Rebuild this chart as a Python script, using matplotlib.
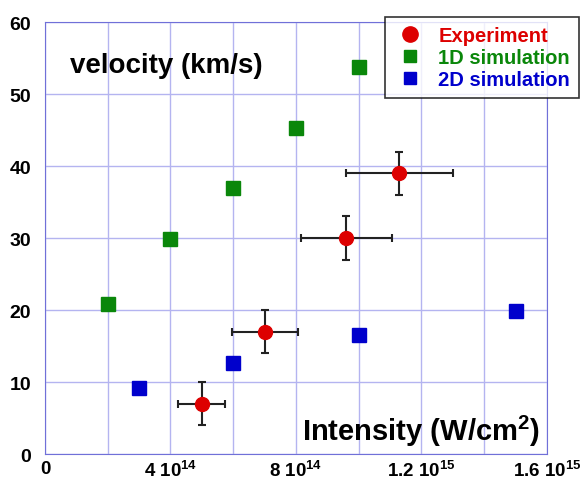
import numpy as np
import matplotlib
matplotlib.use('Agg')
from matplotlib import pyplot as plt
from matplotlib.lines import Line2D

plt.rcParams['font.family'] = 'Liberation Sans'
plt.rcParams['font.weight'] = 'bold'
plt.rcParams['mathtext.fontset'] = 'custom'
plt.rcParams['mathtext.rm'] = 'Liberation Sans:bold'
plt.rcParams['mathtext.bf'] = 'Liberation Sans:bold'
plt.rcParams['mathtext.default'] = 'bf'

# experiment (intensity W/cm2, velocity km/s)
exp_I = [5.0e14, 7.0e14, 9.6e14, 11.3e14]
exp_v = [7, 17, 30, 39]
exp_Ierr = [0.75e14, 1.05e14, 1.45e14, 1.7e14]
exp_verr = [3, 3, 3, 3]

sim1d_I = [2e14, 4e14, 6e14, 8e14, 10e14]
sim1d_v = [20.9, 29.8, 36.9, 45.3, 53.8]

sim2d_I = [3e14, 6e14, 10e14, 15e14]
sim2d_v = [9.2, 12.7, 16.5, 19.8]

xticks = [0, 4e14, 8e14, 12e14, 16e14]
xticklabels = ['0', r'4 10$^{14}$', r'8 10$^{14}$', r'1.2 10$^{15}$', r'1.6 10$^{15}$']

red = '#dd0000'
green = '#0a870a'
blue = '#0000cc'
gridc = '#b4b4f0'
axc = '#7070d8'

fig = plt.figure(figsize=(5.85, 4.81), dpi=100)
ax = fig.add_axes([0.0769, 0.054, 0.858, 0.898])

ax.plot(sim1d_I, sim1d_v, 's', color=green, ms=10, zorder=3)
ax.plot(sim2d_I, sim2d_v, 's', color=blue, ms=10, zorder=3)
ax.errorbar(exp_I, exp_v, xerr=exp_Ierr, yerr=exp_verr, fmt='o', color=red,
            ms=10, ecolor='#222222', elinewidth=1.5, capsize=3, capthick=1.5, zorder=4)

ax.set_xlim(0, 1.6e15)
ax.set_ylim(0, 60)
ax.set_xticks(xticks)
ax.set_xticklabels(xticklabels)
ax.set_xticks(np.arange(0, 1.61e15, 2e14), minor=True)
ax.set_yticks(np.arange(0, 61, 10))
ax.grid(True, which='both', color=gridc, lw=1)
ax.set_axisbelow(True)
for s in ax.spines.values():
    s.set_color(axc)
ax.tick_params(axis='both', which='both', length=0, labelsize=14, colors='black')
ax.tick_params(axis='x', pad=4, labelsize=13.5)
ax.tick_params(axis='y', pad=10)

ax.text(0.05, 0.9, 'velocity (km/s)', transform=ax.transAxes, fontsize=20,
        fontweight='bold', va='center', ha='left')
ax.text(0.987, 0.055, r'Intensity (W/cm$^{2}$)', transform=ax.transAxes, fontsize=21,
        fontweight='bold', va='center', ha='right')

handles = [Line2D([], [], ls='', marker='o', color=red, ms=11),
           Line2D([], [], ls='', marker='s', color=green, ms=9),
           Line2D([], [], ls='', marker='s', color=blue, ms=9)]
labels = ['Experiment', '1D simulation', '2D simulation']
leg = fig.legend(handles, labels, loc='upper left', bbox_to_anchor=(385/585, 1 - 18/481),
                 fontsize=14.5, frameon=True, fancybox=False, edgecolor='black',
                 handlelength=1.6, handletextpad=0.6, borderpad=0.45, labelspacing=0.15,
                 borderaxespad=0)
leg.get_frame().set_linewidth(1.2)
for t, c in zip(leg.get_texts(), [red, green, blue]):
    t.set_color(c)
    t.set_fontweight('bold')

fig.savefig('out.png', dpi=100)
